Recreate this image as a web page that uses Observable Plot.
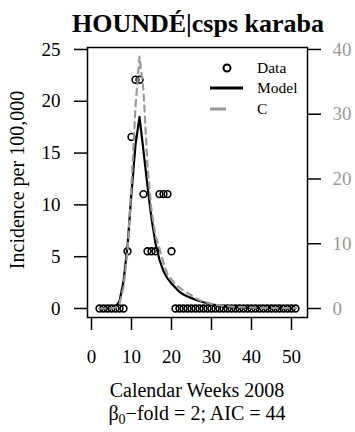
<!DOCTYPE html>
<html><head><meta charset="utf-8">
<script src="https://cdn.jsdelivr.net/npm/d3@7"></script>
<script src="https://cdn.jsdelivr.net/npm/@observablehq/plot@0.6"></script>
<style>body{margin:0;background:#fff} svg{display:block} svg text{font-family:'Liberation Serif','Times New Roman',serif !important}</style>
</head><body><div id="chart"></div>
<script>
// ---- data ----
const dataWeeks = [2,3,4,5,6,7,8,9,10,11,12,13,14,15,16,17,18,19,20,21,22,23,24,25,26,27,28,29,30,31,32,33,34,35,36,37,38,39,40,41,42,43,44,45,46,47,48,49,50,51];
const dataIncidence = [0,0,0,0,0,0,0,5.52,16.56,22.08,22.08,11.04,5.52,5.52,5.52,11.04,11.04,11.04,5.52,0,0,0,0,0,0,0,0,0,0,0,0,0,0,0,0,0,0,0,0,0,0,0,0,0,0,0,0,0,0,0];
const modelWeeks = [2,3,4,5,6,7,8,9,10,11,12,13,14,15,16,17,18,19,20,21,22,23,24,25,26,27,28,29,30,31,32,33,34,35,36,38,40,45,51];
const modelValues = [0,0,0,0.02,0.15,0.7,2.6,6.0,11.2,15.8,18.5,15.2,11.8,8.7,6.3,4.7,3.6,2.9,2.4,2.0,1.6,1.35,1.15,1.0,0.85,0.72,0.6,0.5,0.4,0.32,0.25,0.2,0.15,0.12,0.1,0.07,0.05,0.03,0.02];
const cWeeks = [2,3,4,5,6,7,8,9,10,11,12,13,14,15,16,17,18,19,20,21,22,23,24,25,26,27,28,29,30,32,34,36,40,45,51];
const cValues = [0,0,0,0.02,0.15,0.8,3.2,8.8,19.2,31.2,38.9,33.6,22.0,15.2,11.2,9.3,7.0,5.3,4.5,3.7,3.2,2.8,2.4,2.0,1.6,1.3,1.0,0.9,0.7,0.5,0.35,0.24,0.13,0.08,0.05];
const xTicks = [0,10,20,30,40,50];
const yTicks = [0,5,10,15,20,25];
const yRightTicks = [0,10,20,30,40];
const leftMax = 25, rightMax = 40;
const titleText = "HOUNDÉ|csps karaba";
const xLabel = "Calendar Weeks 2008";
const yLabel = "Incidence per 100,000";
const legendLabels = ["Data", "Model", "C"];

const toLeft = v => v * leftMax / rightMax;
const points = dataWeeks.map((w, i) => ({week: w, value: dataIncidence[i]}));
const model = modelWeeks.map((w, i) => ({week: w, value: modelValues[i]}));
const cser = cWeeks.map((w, i) => ({week: w, value: toLeft(cValues[i])}));

const W = 355, H = 432, mL = 87, mR = 48, mT = 47, mB = 115;
const FONT = "'Liberation Serif', 'Times New Roman', serif";
const GRAY = "#999999";

const plot = Plot.plot({
  width: W, height: H,
  marginLeft: mL, marginRight: mR, marginTop: mT, marginBottom: mB,
  x: {domain: [-1, 54]},
  y: {domain: [-0.87, 25.19]},
  style: {fontFamily: FONT, fontSize: "19px", color: "black", background: "white", overflow: "visible"},
  marks: [
    Plot.frame({stroke: "black", strokeWidth: 1.5}),
    Plot.axisX({ticks: xTicks, tickSize: 13, tickPadding: 19, label: null, strokeWidth: 1.5, fontSize: 19}),
    Plot.axisY({ticks: yTicks, tickSize: 13, tickPadding: 14, label: null, strokeWidth: 1.5, fontSize: 19}),
    Plot.axisY({anchor: "right", ticks: yRightTicks.map(toLeft), tickFormat: d => String(Math.round(d * rightMax / leftMax)),
      tickSize: 13, tickPadding: 12, label: null, stroke: "black", fill: GRAY, strokeWidth: 1.5, fontSize: 19}),
    Plot.dot(points, {x: "week", y: "value", r: 3.4, stroke: "black", strokeWidth: 1.6, fill: "none"}),
    Plot.line(model, {x: "week", y: "value", stroke: "black", strokeWidth: 2.2}),
    Plot.line(cser, {x: "week", y: "value", stroke: GRAY, strokeWidth: 2.2, strokeDasharray: "6,5"})
  ]
});

const svg = d3.select(plot);
svg.attr("font-family", FONT);
const fx0 = mL, fx1 = W - mR, fy0 = mT, fy1 = H - mB;
const cx = (fx0 + fx1) / 2;
svg.append("text").attr("x", cx + 1).attr("y", 32).attr("text-anchor", "middle")
  .attr("font-family", FONT).attr("font-size", 26).attr("font-weight", "bold").attr("fill", "black").text(titleText);
svg.append("text").attr("x", cx).attr("y", 397).attr("text-anchor", "middle")
  .attr("font-family", FONT).attr("font-size", 20).attr("fill", "black").text(xLabel);
const sub = svg.append("text").attr("x", cx).attr("y", 420).attr("text-anchor", "middle")
  .attr("font-family", FONT).attr("font-size", 20).attr("fill", "black");
sub.append("tspan").text("β");
sub.append("tspan").attr("font-size", 14).attr("dy", 4).text("0");
sub.append("tspan").attr("dy", -4).text("−fold = 2; AIC = 44");
svg.append("text").attr("transform", `translate(24,${(fy0 + fy1) / 2 - 2}) rotate(-90)`).attr("text-anchor", "middle")
  .attr("font-family", FONT).attr("font-size", 20).attr("fill", "black").text(yLabel);

// legend (top-right inside the frame)
const lg = svg.append("g").attr("font-family", FONT).attr("font-size", 15.5).attr("text-anchor", "start");
const lx = fx1 - 50, rowY = [fy0 + 26, fy0 + 46, fy0 + 67];
lg.append("circle").attr("cx", fx1 - 80).attr("cy", rowY[0] - 5).attr("r", 3.5).attr("fill", "none").attr("stroke", "black").attr("stroke-width", 2);
lg.append("line").attr("x1", fx1 - 97).attr("x2", fx1 - 64).attr("y1", rowY[1] - 5).attr("y2", rowY[1] - 5).attr("stroke", "black").attr("stroke-width", 3);
lg.append("line").attr("x1", fx1 - 97).attr("x2", fx1 - 81).attr("y1", rowY[2] - 5).attr("y2", rowY[2] - 5).attr("stroke", GRAY).attr("stroke-width", 3);
legendLabels.forEach((t, i) => lg.append("text").attr("x", lx).attr("y", rowY[i]).attr("text-anchor", "start").attr("fill", "black").text(t));

document.getElementById("chart").appendChild(plot);
</script>
</body></html>
